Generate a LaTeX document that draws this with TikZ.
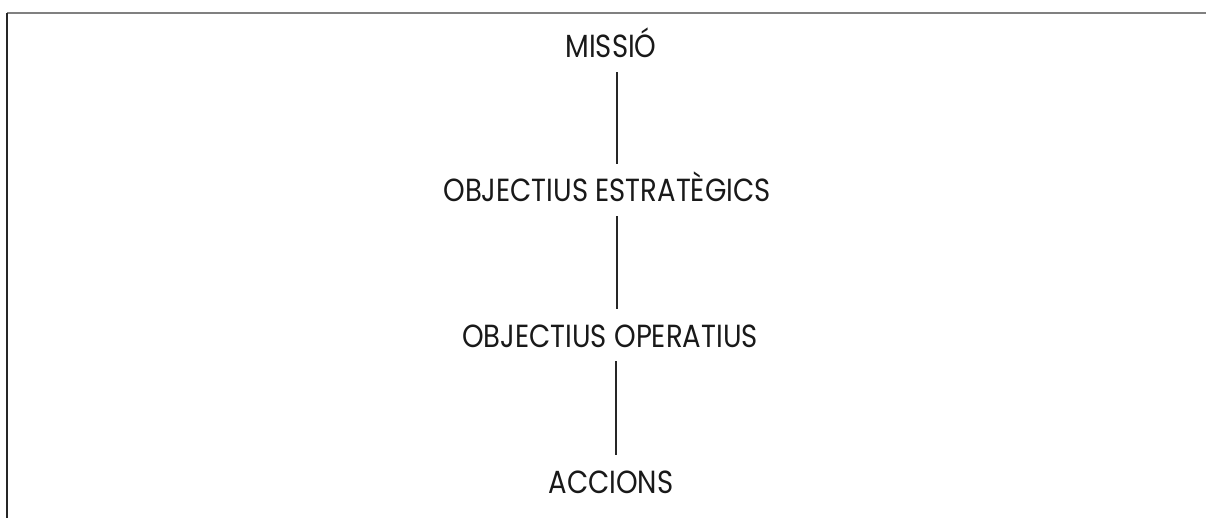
\documentclass[tikz,border=0pt]{standalone}
\usepackage{fontspec}
\setmainfont{Poppins}[FakeStretch=0.86]
\tikzset{
  lbl/.style={anchor=base, font=\fontsize{32}{38}\selectfont, text=black!90,
    text height=24pt, text depth=0pt, inner xsep=0pt, inner ysep=14pt},
  conn/.style={line width=2pt, black!85},
}
\begin{document}
\begin{tikzpicture}[x=1pt,y=-1pt]
\useasboundingbox (0,0) rectangle (1206,518);
\fill[white] (0,0) rectangle (1206,518);
\draw[line width=2pt, black!50] (7,13) -- (1206,13);
\draw[line width=2pt, black!85] (7,13) -- (7,518);
\node[lbl] (m) at (611,58) {MISSIÓ};
\node[lbl] (e) at (607,202) {OBJECTIUS ESTRATÈGICS};
\node[lbl] (o) at (610,347) {OBJECTIUS OPERATIUS};
\node[lbl] (a) at (611,493) {ACCIONS};
\draw[conn] ([xshift=6pt]m.south) -- ([xshift=6pt]m.south |- e.north);
\draw[conn] ([xshift=10pt]e.south) -- ([xshift=10pt]e.south |- o.north);
\draw[conn] ([xshift=6pt]o.south) -- ([xshift=6pt]o.south |- a.north);
\end{tikzpicture}
\end{document}
